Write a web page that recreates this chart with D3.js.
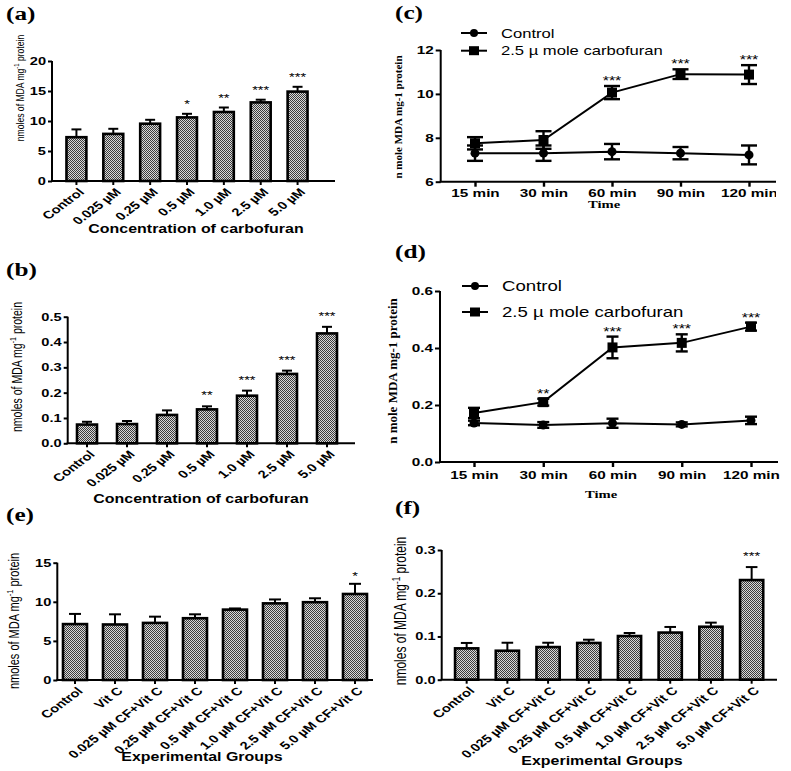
<!DOCTYPE html>
<html>
<head>
<meta charset="utf-8">
<script src="https://cdn.jsdelivr.net/npm/d3@7"></script>
<style>
  body { margin: 0; background: #fff; }
  svg { display: block; }
  text { fill: #000; }
</style>
</head>
<body>
<div id="chart"></div>
<script>
// ---- data ----
var concLabels = ["Control", "0.025 \u00b5M", "0.25 \u00b5M", "0.5 \u00b5M", "1.0 \u00b5M", "2.5 \u00b5M", "5.0 \u00b5M"];
var mdaA = [7.3, 7.85, 9.55, 10.6, 11.5, 13.1, 14.9];
var errA = [1.3, 0.85, 0.65, 0.6, 0.75, 0.45, 0.8];
var starsA = ["", "", "", "*", "**", "***", "***"];

var mdaB = [0.074, 0.076, 0.112, 0.134, 0.188, 0.274, 0.434];
var errB = [0.011, 0.012, 0.018, 0.012, 0.02, 0.013, 0.026];
var starsB = ["", "", "", "**", "***", "***", "***"];

var timeLabels = ["15 min", "30 min", "60 min", "90 min", "120 min"];
var ctrlC = [7.3, 7.3, 7.37, 7.3, 7.22];
var ctrlErrC = [0.35, 0.35, 0.35, 0.28, 0.43];
var cfC = [7.75, 7.9, 10.06, 10.9, 10.88];
var cfErrC = [0.28, 0.4, 0.3, 0.22, 0.43];
var starsC = ["", "", "***", "***", "***"];

var ctrlD = [0.137, 0.13, 0.136, 0.132, 0.146];
var ctrlErrD = [0.008, 0.01, 0.016, 0.007, 0.013];
var cfD = [0.172, 0.21, 0.402, 0.418, 0.475];
var cfErrD = [0.018, 0.012, 0.038, 0.03, 0.014];
var starsD = ["", "**", "***", "***", "***"];

var groupLabels = ["Control", "Vit C", "0.025 \u00b5M CF+Vit C", "0.25 \u00b5M CF+Vit C", "0.5 \u00b5M CF+Vit C",
  "1.0 \u00b5M CF+Vit C", "2.5 \u00b5M CF+Vit C", "5.0 \u00b5M CF+Vit C"];
var mdaE = [7.15, 7.1, 7.3, 7.9, 9.0, 9.8, 9.95, 11.0];
var errE = [1.3, 1.3, 0.8, 0.5, 0.15, 0.5, 0.5, 1.3];
var starsE = ["", "", "", "", "", "", "", "*"];

var mdaF = [0.0725, 0.067, 0.0755, 0.085, 0.101, 0.109, 0.1225, 0.2305];
var errF = [0.0125, 0.0185, 0.01, 0.0075, 0.007, 0.013, 0.0095, 0.03];
var starsF = ["", "", "", "", "", "", "", "***"];

// ---- drawing ----
var SANS = "'Liberation Sans', Arial, sans-serif";
var SERIF = "'Liberation Serif', 'Times New Roman', serif";
var SX = 1.33; // the figure is stretched horizontally

function st(x, y, r) {
  return "translate(" + x + "," + y + ") scale(" + SX + ",1)" + (r ? " rotate(" + r + ")" : "");
}

var svg = d3.select("#chart").append("svg").attr("width", 791).attr("height", 771);

var pat = svg.append("defs").append("pattern").attr("id", "chk")
  .attr("width", 2).attr("height", 2).attr("patternUnits", "userSpaceOnUse");
pat.append("rect").attr("width", 2).attr("height", 2).attr("fill", "#d8d8d8");
pat.append("rect").attr("x", 0).attr("y", 0).attr("width", 1).attr("height", 1).attr("fill", "#3c3c3c");
pat.append("rect").attr("x", 1).attr("y", 1).attr("width", 1).attr("height", 1).attr("fill", "#3c3c3c");

function panelLabel(txt, x, y) {
  svg.append("text").attr("transform", st(x, y)).attr("font-family", SERIF)
    .attr("font-weight", "bold").attr("font-size", 19).text(txt);
}

function nmolesLabel(g, x, y, fs) {
  var t = g.append("text").attr("transform", st(x, y, -90)).attr("text-anchor", "middle")
    .attr("font-family", SANS).attr("font-size", fs);
  t.append("tspan").text("nmoles of MDA mg");
  t.append("tspan").attr("font-size", fs * 0.68).attr("dy", -fs * 0.4).text("-1");
  t.append("tspan").attr("dy", fs * 0.4).text(" protein");
}

function barPanel(o) {
  var g = svg.append("g");
  var y = d3.scaleLinear().domain(o.domain).range(o.yRange);
  var x = d3.scaleBand().domain(o.labels).range(o.band).paddingInner(o.pad).paddingOuter(o.pad / 2);
  var rows = o.labels.map(function(l, i) {
    return { label: l, v: o.values[i], e: o.errs[i], s: o.stars[i] };
  });
  var bw = x.bandwidth();

  var yAxis = g.append("g").attr("transform", "translate(" + o.x0 + ",0)")
    .call(d3.axisLeft(y).tickValues(o.ticks).tickSize(4).tickPadding(2).tickFormat(d3.format(o.fmt)));
  yAxis.select(".domain").remove();
  yAxis.selectAll("line").attr("stroke-width", 2);
  yAxis.selectAll("text").attr("font-family", SANS).attr("font-weight", "bold").attr("font-size", 11)
    .attr("x", -6 / SX).attr("transform", "scale(" + SX + ",1)");
  g.append("line").attr("x1", o.x0).attr("x2", o.x0).attr("y1", o.yRange[0]).attr("y2", o.yRange[1])
    .attr("stroke", "#000").attr("stroke-width", 2);

  var bar = g.selectAll(".bar").data(rows).enter().append("g");
  bar.append("line")
    .attr("x1", function(d) { return x(d.label) + bw / 2; })
    .attr("x2", function(d) { return x(d.label) + bw / 2; })
    .attr("y1", function(d) { return y(d.v); })
    .attr("y2", function(d) { return y(d.v + d.e); })
    .attr("stroke", "#000").attr("stroke-width", 2);
  bar.append("line")
    .attr("x1", function(d) { return x(d.label) + bw / 4; })
    .attr("x2", function(d) { return x(d.label) + bw * 3 / 4; })
    .attr("y1", function(d) { return y(d.v + d.e); })
    .attr("y2", function(d) { return y(d.v + d.e); })
    .attr("stroke", "#000").attr("stroke-width", 2);
  bar.append("rect")
    .attr("x", function(d) { return x(d.label); })
    .attr("y", function(d) { return y(d.v); })
    .attr("width", bw)
    .attr("height", function(d) { return o.yRange[0] - y(d.v); })
    .attr("fill", "url(#chk)").attr("stroke", "#000").attr("stroke-width", 2.6);
  bar.append("text")
    .attr("transform", function(d) { return st(x(d.label) + bw / 2, y(d.v + d.e) - o.starGap); })
    .attr("text-anchor", "middle").attr("font-family", SANS).attr("font-size", 11).attr("fill", "#333")
    .text(function(d) { return d.s; });

  var xAxis = g.append("g").attr("transform", "translate(0," + o.yRange[0] + ")")
    .call(d3.axisBottom(x).tickSize(4));
  xAxis.select(".domain").remove();
  xAxis.selectAll("line").attr("stroke-width", 2);
  xAxis.selectAll("text").attr("font-family", SANS).attr("font-weight", "bold").attr("font-size", 11)
    .attr("text-anchor", "end").attr("x", 0).attr("y", 0).attr("dy", "0.35em")
    .attr("transform", st(5, 9, -45));
  g.append("line").attr("x1", o.x0 - 1).attr("x2", o.axisEnd).attr("y1", o.yRange[0]).attr("y2", o.yRange[0])
    .attr("stroke", "#000").attr("stroke-width", 2);

  g.append("text").attr("transform", st(o.titleX, o.titleY)).attr("text-anchor", "middle")
    .attr("font-family", SANS).attr("font-weight", "bold").attr("font-size", 12).text(o.title);
  nmolesLabel(g, o.ylabX, o.ylabY, o.ylabFs);
}

function errBar(g, y, cx, v, e, cap) {
  g.append("line").attr("x1", cx).attr("x2", cx).attr("y1", y(v - e)).attr("y2", y(v + e))
    .attr("stroke", "#000").attr("stroke-width", 2.4);
  [v - e, v + e].forEach(function(t) {
    g.append("line").attr("x1", cx - cap / 2).attr("x2", cx + cap / 2).attr("y1", y(t)).attr("y2", y(t))
      .attr("stroke", "#000").attr("stroke-width", 2.4);
  });
}

function linePanel(o) {
  var g = svg.append("g");
  if (o.clip) {
    svg.select("defs").append("clipPath").attr("id", o.clip.id).append("rect")
      .attr("x", o.clip.x).attr("y", o.clip.y).attr("width", o.clip.w).attr("height", o.clip.h);
    g.attr("clip-path", "url(#" + o.clip.id + ")");
  }
  var y = d3.scaleLinear().domain(o.domain).range(o.yRange);
  var x = d3.scalePoint().domain(timeLabels).range(o.xRange);
  var series = [
    { name: "Control", v: o.ctrl, e: o.ctrlErr, shape: "circle" },
    { name: "2.5 \u00b5 mole carbofuran", v: o.cf, e: o.cfErr, shape: "square" }
  ];

  var yAxis = g.append("g").attr("transform", "translate(" + o.x0 + ",0)")
    .call(d3.axisLeft(y).tickValues(o.ticks).tickSize(5).tickPadding(2).tickFormat(d3.format(o.fmt)));
  yAxis.select(".domain").remove();
  yAxis.selectAll("line").attr("stroke-width", 2);
  yAxis.selectAll("text").attr("font-family", SANS).attr("font-weight", "bold").attr("font-size", o.tickFs)
    .attr("x", -7 / SX).attr("transform", "scale(" + SX + ",1)");
  g.append("line").attr("x1", o.x0).attr("x2", o.x0).attr("y1", o.yRange[0]).attr("y2", o.yRange[1])
    .attr("stroke", "#000").attr("stroke-width", 2);

  var xAxis = g.append("g").attr("transform", "translate(0," + o.yRange[0] + ")")
    .call(d3.axisBottom(x).tickSize(5));
  xAxis.select(".domain").remove();
  xAxis.selectAll("line").attr("stroke-width", 2.4);
  xAxis.selectAll("text").attr("font-family", SANS).attr("font-weight", "bold").attr("font-size", o.tickFs)
    .attr("y", o.tickLabY).attr("dy", 0).attr("transform", "scale(" + SX + ",1)");
  g.append("line").attr("x1", o.x0 - 1).attr("x2", o.axisEnd).attr("y1", o.yRange[0]).attr("y2", o.yRange[0])
    .attr("stroke", "#000").attr("stroke-width", 2);

  var line = d3.line().x(function(d, i) { return x(timeLabels[i]); }).y(function(d) { return y(d); });
  series.forEach(function(s) {
    g.append("path").attr("d", line(s.v)).attr("fill", "none").attr("stroke", "#000").attr("stroke-width", 2);
    s.v.forEach(function(v, i) {
      errBar(g, y, x(timeLabels[i]), v, s.e[i], o.cap);
    });
    s.v.forEach(function(v, i) {
      var cx = x(timeLabels[i]), cy = y(v);
      if (s.shape === "circle") {
        g.append("circle").attr("cx", cx).attr("cy", cy).attr("r", 4.5).attr("fill", "#000");
      } else {
        g.append("rect").attr("x", cx - 5).attr("y", cy - 5).attr("width", 10).attr("height", 10).attr("fill", "#000");
      }
    });
  });
  o.stars.forEach(function(s, i) {
    g.append("text").attr("transform", st(x(timeLabels[i]), y(o.cf[i] + o.cfErr[i]) - o.starGap))
      .attr("text-anchor", "middle").attr("font-family", SANS).attr("font-size", 12).text(s);
  });

  // legend
  series.forEach(function(s, i) {
    var ly = o.legY + i * o.legStep;
    g.append("line").attr("x1", o.legX).attr("x2", o.legX + 26).attr("y1", ly).attr("y2", ly)
      .attr("stroke", "#000").attr("stroke-width", 2);
    if (s.shape === "circle") {
      g.append("circle").attr("cx", o.legX + 13).attr("cy", ly).attr("r", 4).attr("fill", "#000");
    } else {
      g.append("rect").attr("x", o.legX + 8).attr("y", ly - 4.5).attr("width", 10).attr("height", 9).attr("fill", "#000");
    }
    g.append("text").attr("transform", st(o.legX + 40, ly + o.legFs * 0.36))
      .attr("font-family", SANS).attr("font-size", o.legFs).text(s.name);
  });

  g.append("text").attr("transform", st(o.timeX, o.timeY)).attr("text-anchor", "middle")
    .attr("font-family", SERIF).attr("font-weight", "bold").attr("font-size", 11).text("Time");
  g.append("text").attr("transform", "translate(" + o.ylabX + "," + o.ylabY + ") scale(" + o.ylabSX + ",1) rotate(-90)")
    .attr("text-anchor", "middle").attr("font-family", SERIF).attr("font-weight", "bold")
    .attr("font-size", o.ylabFs).text("n mole MDA mg-1 protein");
}

// (a)
barPanel({
  labels: concLabels, values: mdaA, errs: errA, stars: starsA,
  domain: [0, 20], ticks: [0, 5, 10, 15, 20], fmt: "d",
  x0: 52, band: [58, 316], pad: 0.46, axisEnd: 335, yRange: [181, 61], starGap: 6,
  title: "Concentration of carbofuran", titleX: 196, titleY: 233, ylabX: 24, ylabY: 88, ylabFs: 8.6
});
// (b)
barPanel({
  labels: concLabels, values: mdaB, errs: errB, stars: starsB,
  domain: [0, 0.5], ticks: [0, 0.1, 0.2, 0.3, 0.4, 0.5], fmt: ".1f",
  x0: 67.7, band: [67, 347], pad: 0.5, axisEnd: 355, yRange: [443.3, 316.7], starGap: 7,
  title: "Concentration of carbofuran", titleX: 201, titleY: 503, ylabX: 22, ylabY: 367, ylabFs: 10.5
});
// (e)
barPanel({
  labels: groupLabels, values: mdaE, errs: errE, stars: starsE,
  domain: [0, 15], ticks: [0, 5, 10, 15], fmt: "d",
  x0: 57.3, band: [55, 375], pad: 0.4, axisEnd: 373, yRange: [680, 562.7], starGap: 4,
  title: "Experimental Groups", titleX: 202, titleY: 761, ylabX: 19, ylabY: 621, ylabFs: 11
});
// (f)
barPanel({
  labels: groupLabels, values: mdaF, errs: errF, stars: starsF,
  domain: [0, 0.3], ticks: [0, 0.1, 0.2, 0.3], fmt: ".1f",
  x0: 441.7, band: [446.3, 772], pad: 0.43, axisEnd: 777, yRange: [679.7, 550], starGap: 7,
  title: "Experimental Groups", titleX: 602, titleY: 765, ylabX: 406, ylabY: 611, ylabFs: 12
});
// (c)
linePanel({
  ctrl: ctrlC, ctrlErr: ctrlErrC, cf: cfC, cfErr: cfErrC, stars: starsC,
  domain: [6, 12], ticks: [6, 8, 10, 12], fmt: "d", x0: 440.7, xRange: [475, 749], axisEnd: 776,
  yRange: [181.7, 50], cap: 16, starGap: 1, tickFs: 11.5, tickLabY: 15,
  legX: 461, legY: 33, legStep: 17.7, legFs: 12.5,
  timeX: 604, timeY: 208, ylabX: 402, ylabY: 117, ylabSX: 0.85, ylabFs: 11,
  clip: { id: "clipC", x: 380, y: 0, w: 396, h: 225 }
});
// (d)
linePanel({
  ctrl: ctrlD, ctrlErr: ctrlErrD, cf: cfD, cfErr: cfErrD, stars: starsD,
  domain: [0, 0.6], ticks: [0, 0.2, 0.4, 0.6], fmt: ".1f", x0: 440, xRange: [474, 751], axisEnd: 778,
  yRange: [462, 291], cap: 12, starGap: 1, tickFs: 11.5, tickLabY: 17,
  legX: 462, legY: 286, legStep: 26, legFs: 14,
  timeX: 601, timeY: 498, ylabX: 397, ylabY: 371, ylabSX: 0.9, ylabFs: 13
});

panelLabel("(a)", 6, 20);
panelLabel("(b)", 6, 276);
panelLabel("(e)", 6, 521);
panelLabel("(c)", 395, 19);
panelLabel("(d)", 395, 258);
panelLabel("(f)", 395, 514);
</script>
</body>
</html>
